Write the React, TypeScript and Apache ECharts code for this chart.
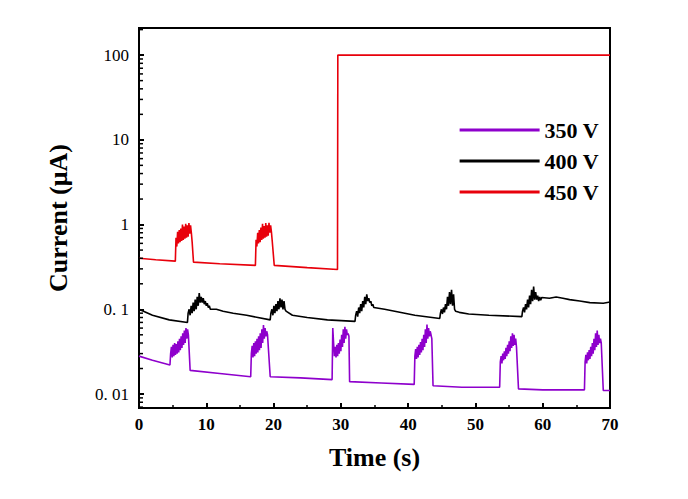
import React, { useEffect, useRef } from "react";
import * as echarts from "echarts";

// Baseline segments: [time, current µA]
const red450: [number, number][] = [
  [0, 0.4], [2.5, 0.385], [5.4, 0.37],
];
const redBurst1 = { start: 5.5, step: 0.12, values: [0.7, 0.55, 0.82, 0.6, 0.86, 0.62, 0.9, 0.64, 1.0, 0.66, 0.95, 0.68, 1.02, 0.7, 0.98, 0.72, 1.04, 0.78, 0.98, 0.8, 0.62] };
const redMid: [number, number][] = [[8.1, 0.36], [12, 0.345], [17.3, 0.33]];
const redBurst2 = { start: 17.4, step: 0.12, values: [0.66, 0.55, 0.8, 0.6, 0.86, 0.62, 0.92, 0.66, 1.02, 0.68, 0.96, 0.7, 1.04, 0.72, 0.98, 0.74, 1.05, 0.8, 0.98, 0.82, 0.64] };
const redEnd: [number, number][] = [[20.1, 0.33], [25, 0.31], [29.5, 0.295], [29.55, 100], [70, 100]];

const black400: [number, number][] = [[0, 0.1], [2, 0.085], [4.5, 0.075], [7.2, 0.07]];
const blackB1 = { start: 7.3, step: 0.15, values: [0.09, 0.1, 0.085, 0.11, 0.09, 0.12, 0.095, 0.13, 0.1, 0.14, 0.11, 0.155, 0.12, 0.14, 0.12, 0.135, 0.115, 0.125, 0.11, 0.118, 0.105, 0.11, 0.1] };
const blackS1: [number, number][] = [[11.5, 0.1], [12.5, 0.095], [14, 0.09], [16, 0.085], [19.5, 0.075]];
const blackB2 = { start: 19.6, step: 0.15, values: [0.09, 0.1, 0.085, 0.11, 0.09, 0.115, 0.095, 0.125, 0.1, 0.135, 0.105, 0.13, 0.1, 0.125, 0.1, 0.095] };
const blackS2: [number, number][] = [[22.8, 0.085], [25, 0.08], [28, 0.075], [32.1, 0.072]];
const blackB3 = { start: 32.2, step: 0.15, values: [0.085, 0.095, 0.082, 0.105, 0.09, 0.115, 0.095, 0.125, 0.105, 0.14, 0.115, 0.15, 0.125, 0.135, 0.12, 0.125, 0.11, 0.115, 0.105] };
const blackS3: [number, number][] = [[36.5, 0.1], [38, 0.095], [41, 0.085], [44.7, 0.078]];
const blackB4 = { start: 44.8, step: 0.15, values: [0.09, 0.1, 0.088, 0.105, 0.092, 0.115, 0.1, 0.14, 0.11, 0.16, 0.115, 0.17, 0.11, 0.15, 0.1, 0.095] };
const blackS4: [number, number][] = [[47.6, 0.092], [49, 0.088], [52, 0.085], [56.9, 0.082]];
const blackB5 = { start: 57.0, step: 0.15, values: [0.095, 0.105, 0.092, 0.115, 0.1, 0.13, 0.105, 0.145, 0.115, 0.17, 0.125, 0.185, 0.13, 0.16, 0.13, 0.145, 0.125, 0.14, 0.128, 0.138] };
const blackEnd: [number, number][] = [[61, 0.135], [62, 0.14], [63, 0.135], [64, 0.13], [65.5, 0.125], [67, 0.12], [69, 0.118], [70, 0.122]];

const purple350: [number, number][] = [[0, 0.028], [2, 0.025], [4.6, 0.022]];
const pB1 = { start: 4.7, step: 0.12, values: [0.03, 0.036, 0.027, 0.038, 0.028, 0.04, 0.029, 0.039, 0.03, 0.042, 0.031, 0.045, 0.033, 0.048, 0.035, 0.052, 0.038, 0.056, 0.04, 0.06, 0.045, 0.058, 0.05] };
const pS1: [number, number][] = [[7.6, 0.019], [12, 0.0175], [16.6, 0.016]];
const pB2 = { start: 16.7, step: 0.12, values: [0.03, 0.037, 0.027, 0.04, 0.028, 0.042, 0.03, 0.045, 0.031, 0.048, 0.033, 0.052, 0.035, 0.058, 0.04, 0.065, 0.045, 0.06, 0.048, 0.055, 0.05] };
const pS2: [number, number][] = [[19.5, 0.016], [24, 0.0155], [28.7, 0.0148]];
const pB3 = { start: 28.8, step: 0.12, values: [0.06, 0.04, 0.028, 0.036, 0.027, 0.038, 0.028, 0.04, 0.03, 0.044, 0.032, 0.05, 0.036, 0.058, 0.04, 0.062, 0.045, 0.058, 0.05, 0.052, 0.048] };
const pS3: [number, number][] = [[31.3, 0.014], [36, 0.0135], [40.9, 0.013]];
const pB4 = { start: 41.0, step: 0.12, values: [0.028, 0.034, 0.026, 0.036, 0.027, 0.038, 0.029, 0.041, 0.031, 0.045, 0.033, 0.05, 0.036, 0.058, 0.04, 0.066, 0.045, 0.06, 0.048, 0.055, 0.05, 0.045] };
const pS4: [number, number][] = [[43.7, 0.0125], [48, 0.012], [53.6, 0.012]];
const pB5 = { start: 53.7, step: 0.12, values: [0.024, 0.028, 0.023, 0.03, 0.025, 0.032, 0.026, 0.035, 0.028, 0.038, 0.03, 0.042, 0.032, 0.048, 0.035, 0.052, 0.037, 0.05, 0.038, 0.045, 0.036] };
const pS5: [number, number][] = [[56.4, 0.0115], [60, 0.0112], [66.2, 0.0112]];
const pB6 = { start: 66.3, step: 0.12, values: [0.024, 0.029, 0.023, 0.031, 0.025, 0.033, 0.026, 0.036, 0.028, 0.04, 0.03, 0.045, 0.033, 0.052, 0.036, 0.056, 0.038, 0.05, 0.04, 0.045, 0.04] };
const pEnd: [number, number][] = [[69.0, 0.011], [70, 0.011]];

const yTicks = [0.01, 0.1, 1, 10, 100];
const yTickLabels = ["0. 01", "0. 1", "1", "10", "100"];
const legendNames = ["350 V", "400 V", "450 V"];
const colors = ["#8e00cc", "#000000", "#e8000b"];

type B = { start: number; step: number; values: number[] };
const burst = (b: B): [number, number][] => b.values.map((v, i) => [b.start + i * b.step, v]);
const join = (parts: ([number, number][] | B)[]) =>
  parts.flatMap((p) => (Array.isArray(p) ? p : burst(p))).map(([t, v]) => [t, Math.log10(v)]);

const YMIN = -2.165, YMAX = 2.32, TOP = 28, BOTTOM = 91, LEFT = 139, RIGHT = 78;

export default function App() {
  const ref = useRef<HTMLDivElement>(null);
  useEffect(() => {
    const chart = echarts.init(ref.current!, undefined, { renderer: "svg" });
    const logTicks = yTicks.map((v) => Math.log10(v));
    const minor: number[] = [];
    for (const d of [-3, -2, -1, 0, 1, 2]) for (let k = 2; k <= 9; k++) {
      const v = d + Math.log10(k);
      if (v > YMIN && v < YMAX) minor.push(v);
    }
    const h = 499 - TOP - BOTTOM;
    const font = "'Liberation Serif', 'Times New Roman', serif";
    const series = [
      join([purple350, pB1, pS1, pB2, pS2, pB3, pS3, pB4, pS4, pB5, pS5, pB6, pEnd]),
      join([black400, blackB1, blackS1, blackB2, blackS2, blackB3, blackS3, blackB4, blackS4, blackB5, blackEnd]),
      join([red450, redBurst1, redMid, redBurst2, redEnd]),
    ];
    chart.setOption({
      animation: false,
      backgroundColor: "#fff",
      grid: { left: LEFT, top: TOP, right: RIGHT, bottom: BOTTOM, show: true, borderColor: "#000", borderWidth: 2 },
      legend: {
        right: 84, top: 114, orient: "vertical", itemWidth: 80, itemHeight: 3, itemGap: 9,
        icon: "rect",
        textStyle: { fontFamily: font, fontWeight: "bold", fontSize: 22, color: "#000" },
        data: legendNames,
      },
      xAxis: {
        type: "value", min: 0, max: 70, interval: 10,
        name: "Time (s)", nameLocation: "middle", nameGap: 36,
        nameTextStyle: { fontFamily: font, fontWeight: "bold", fontSize: 26, color: "#000" },
        axisLine: { onZero: false, lineStyle: { color: "#000", width: 2 } },
        axisTick: { inside: true, length: 5, lineStyle: { color: "#000", width: 2 } },
        minorTick: { show: true, splitNumber: 2, length: 3, lineStyle: { color: "#000", width: 1.5 } },
        axisLabel: { fontFamily: font, fontWeight: "bold", fontSize: 17, color: "#000", margin: 8 },
        splitLine: { show: false },
      },
      yAxis: {
        type: "value", min: YMIN, max: YMAX,
        name: "Current (μA)", nameLocation: "middle", nameGap: 68,
        nameTextStyle: { fontFamily: font, fontWeight: "bold", fontSize: 26, color: "#000" },
        axisLine: { onZero: false, lineStyle: { color: "#000", width: 2 } },
        axisTick: { inside: true, length: 5, customValues: logTicks, lineStyle: { color: "#000", width: 2 } },
        axisLabel: {
          fontFamily: font, fontSize: 17, color: "#000", margin: 10, customValues: logTicks,
          formatter: (v: number) => yTickLabels[logTicks.findIndex((t) => Math.abs(t - v) < 1e-6)] ?? "",
        },
        splitLine: { show: false },
      },
      graphic: minor.map((v) => {
        const y = TOP + ((YMAX - v) / (YMAX - YMIN)) * h;
        return {
          type: "line", z: 100,
          shape: { x1: LEFT, x2: LEFT + 4, y1: y, y2: y },
          style: { stroke: "#000", lineWidth: 1.5 },
        };
      }),
      series: series.map((d, i) => ({
        type: "line", name: legendNames[i], data: d, showSymbol: false, symbol: "none",
        lineStyle: { color: colors[i], width: 1.6 }, itemStyle: { color: colors[i] },
      })),
    });
    return () => chart.dispose();
  }, []);
  return <div ref={ref} style={{ position: "absolute", left: 0, top: 0, width: 688, height: 499 }} />;
}
